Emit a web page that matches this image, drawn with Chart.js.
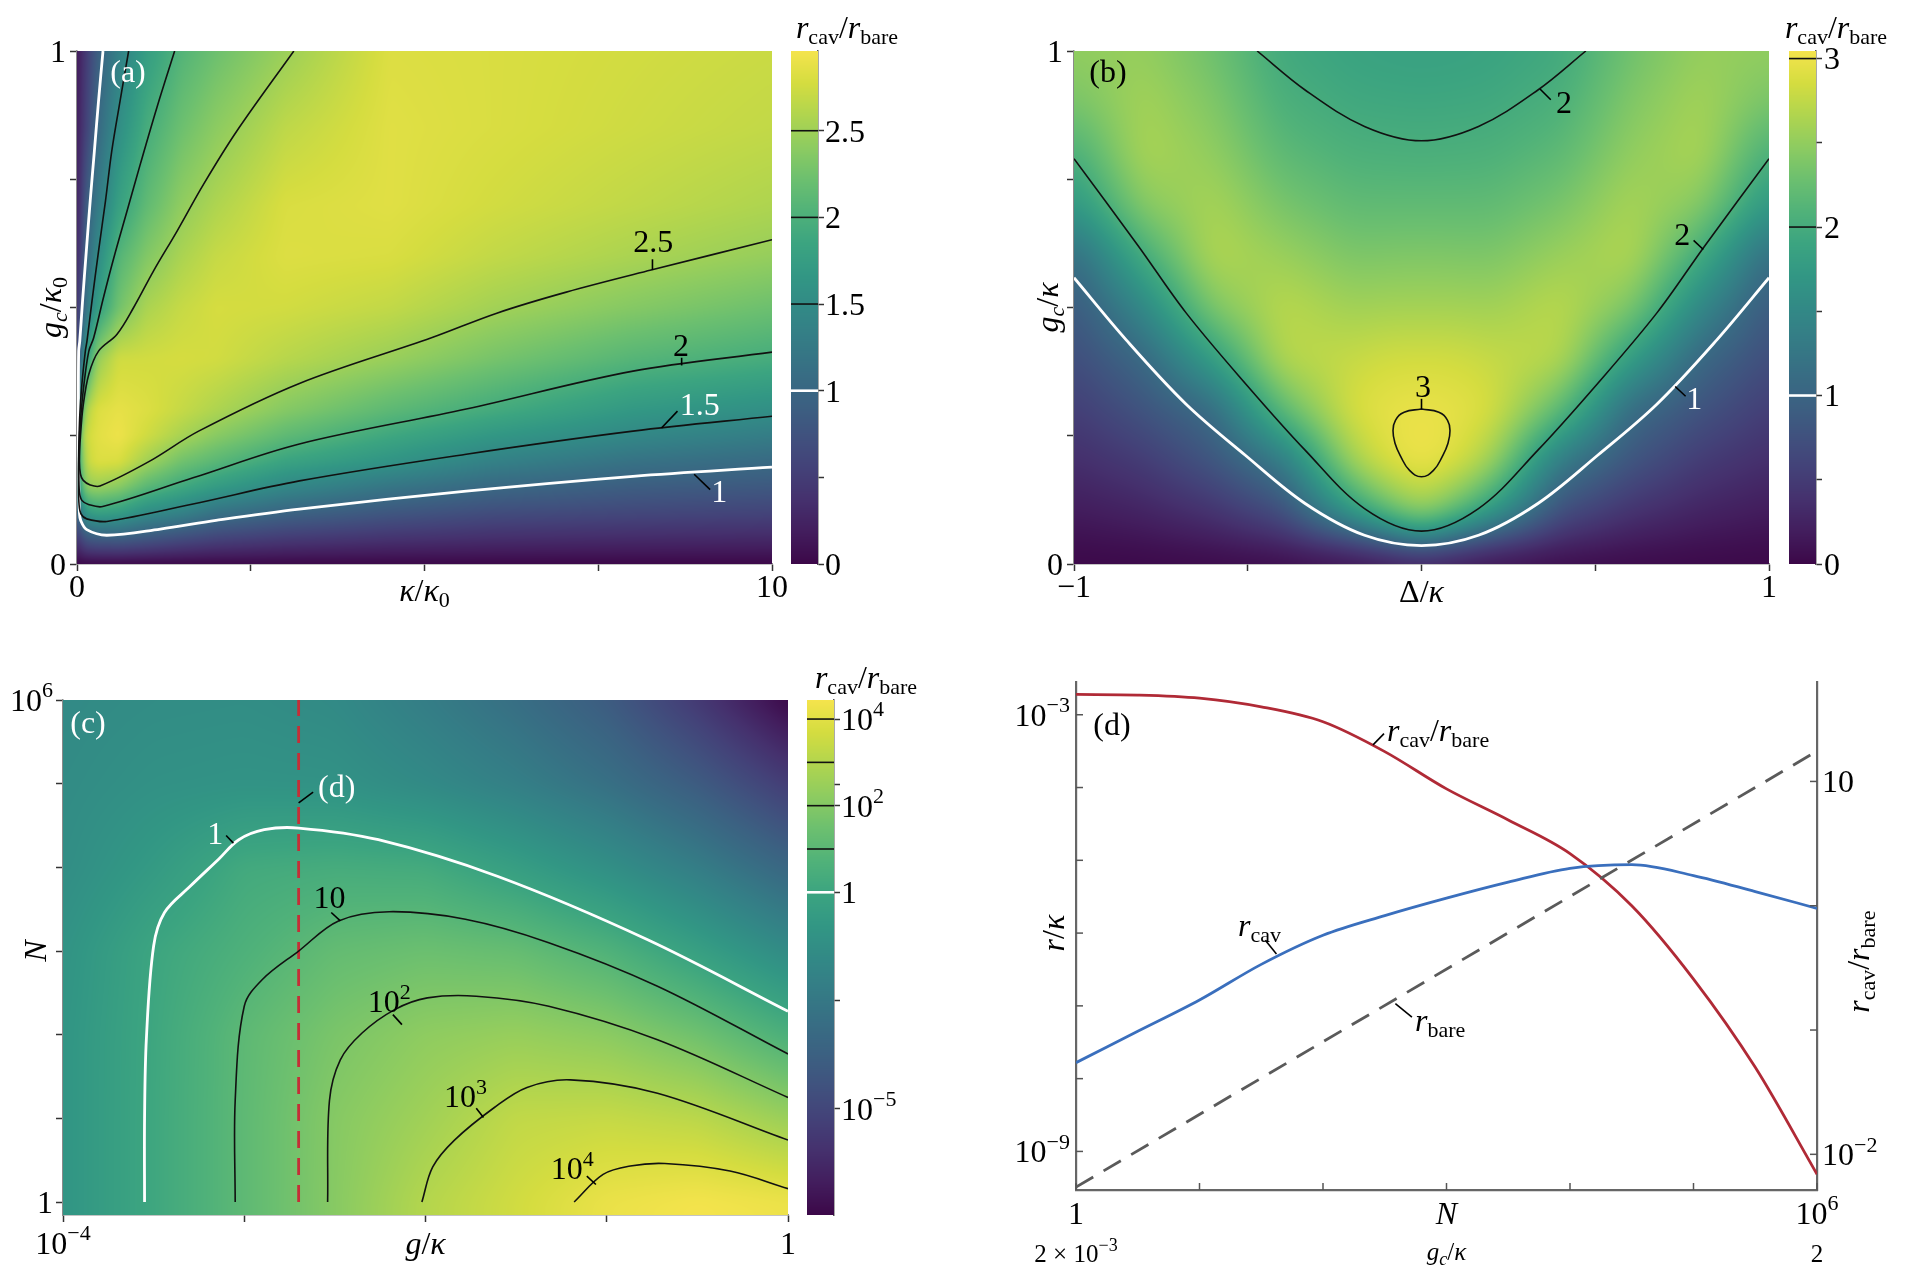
<!DOCTYPE html>
<html>
<head>
<meta charset="utf-8">
<title>cavity enhancement maps</title>
<script src="https://cdn.jsdelivr.net/npm/chart.js@4.4.1/dist/chart.umd.min.js"></script>
<style>
  html, body { margin: 0; background: #fff; }
  #page { position: relative; width: 1920px; height: 1280px; overflow: hidden; background: #fff; }
  #page canvas { position: absolute; left: 0; top: 0; }
</style>
</head>
<body>
<div id="page">
  <canvas id="panelA" width="1920" height="1280"></canvas>
  <canvas id="barA" width="1920" height="1280"></canvas>
  <canvas id="panelB" width="1920" height="1280"></canvas>
  <canvas id="barB" width="1920" height="1280"></canvas>
  <canvas id="panelC" width="1920" height="1280"></canvas>
  <canvas id="barC" width="1920" height="1280"></canvas>
  <canvas id="panelD" width="1920" height="1280"></canvas>
</div>
<script>
// ---- (a) r_cav/r_bare vs kappa/kappa0 (columns) and gc/kappa0 (rows) ----
const aKappa = [0, 0.05, 0.15, 0.3, 0.6, 1, 1.5, 2, 3, 4.5, 6, 8, 10]
const aGc = [0, 0.05, 0.1, 0.15, 0.2, 0.25, 0.3, 0.4, 0.5, 0.6, 0.7, 0.85, 1]
const aRatio = [
  [0, 0, 0, 0, 0, 0, 0, 0, 0, 0, 0, 0, 0],
  [0.4, 0.6, 0.82, 0.88, 0.9, 0.8, 0.68, 0.58, 0.48, 0.4, 0.35, 0.32, 0.3],
  [0.8, 1.3, 1.7, 1.8, 1.75, 1.52, 1.38, 1.16, 0.97, 0.8, 0.68, 0.62, 0.58],
  [1.2, 2.0, 2.42, 2.47, 2.38, 2.1, 1.9, 1.72, 1.45, 1.2, 1.02, 0.88, 0.82],
  [1.5, 2.2, 2.7, 2.82, 2.8, 2.52, 2.25, 2.1, 1.83, 1.62, 1.36, 1.16, 1.05],
  [1.2, 2.4, 2.75, 2.85, 2.92, 2.75, 2.55, 2.38, 2.13, 1.88, 1.66, 1.45, 1.3],
  [0.5, 2.0, 2.62, 2.82, 2.88, 2.82, 2.7, 2.58, 2.36, 2.12, 1.93, 1.68, 1.55],
  [0.3, 1.15, 1.82, 2.45, 2.75, 2.76, 2.78, 2.76, 2.63, 2.47, 2.28, 2.07, 1.95],
  [0.22, 0.75, 1.27, 1.75, 2.25, 2.56, 2.7, 2.78, 2.76, 2.68, 2.52, 2.36, 2.22],
  [0.18, 0.55, 1.06, 1.5, 2.06, 2.34, 2.56, 2.7, 2.82, 2.8, 2.68, 2.56, 2.45],
  [0.15, 0.45, 0.92, 1.27, 1.79, 2.14, 2.42, 2.58, 2.8, 2.84, 2.76, 2.67, 2.58],
  [0.12, 0.35, 0.6, 1.04, 1.54, 1.95, 2.22, 2.4, 2.66, 2.84, 2.8, 2.74, 2.68],
  [0.1, 0.28, 0.52, 0.9, 1.35, 1.75, 2.05, 2.22, 2.48, 2.82, 2.8, 2.76, 2.72],
]
const aRange = [0, 2.96]
// contour lines of (a)
const aLevel1K = [0.374, 0.31, 0.25, 0.19, 0.134, 0.08, 0.04, 0.024, 0.02, 0.022, 0.029, 0.035, 0.053, 0.14, 0.43, 1.2, 2, 3.2, 5.6, 8, 10]
const aLevel1G = [1.0, 0.903, 0.805, 0.708, 0.61, 0.513, 0.435, 0.415, 0.3, 0.2, 0.13, 0.1, 0.085, 0.067, 0.056, 0.068, 0.085, 0.107, 0.142, 0.171, 0.189]
const aLevel15K = [0.743, 0.62, 0.50, 0.41, 0.31, 0.216, 0.144, 0.12, 0.07, 0.04, 0.025, 0.022, 0.03, 0.06, 0.14, 0.43, 1.67, 3.2, 5.6, 8, 10]
const aLevel15G = [1.0, 0.903, 0.805, 0.708, 0.61, 0.513, 0.435, 0.415, 0.35, 0.29, 0.22, 0.16, 0.115, 0.097, 0.088, 0.083, 0.117, 0.162, 0.214, 0.259, 0.288]
const aLevel2K = [1.405, 1.15, 0.91, 0.72, 0.53, 0.38, 0.24, 0.17, 0.1, 0.05, 0.03, 0.025, 0.035, 0.07, 0.165, 0.37, 1.67, 3.2, 5.6, 8, 10]
const aLevel2G = [1.0, 0.89, 0.779, 0.688, 0.597, 0.519, 0.441, 0.415, 0.35, 0.28, 0.23, 0.18, 0.14, 0.124, 0.116, 0.112, 0.168, 0.234, 0.302, 0.376, 0.413]
const aLevel25K = [3.12, 2.30, 1.82, 1.44, 1.10, 0.815, 0.576, 0.31, 0.17, 0.09, 0.05, 0.035, 0.05, 0.09, 0.19, 0.33, 1.04, 1.75, 3.2, 5.1, 6.04, 7.04, 8.26, 10]
const aLevel25G = [1.0, 0.844, 0.740, 0.649, 0.571, 0.50, 0.448, 0.415, 0.37, 0.31, 0.25, 0.2, 0.175, 0.163, 0.154, 0.152, 0.2, 0.259, 0.352, 0.441, 0.489, 0.530, 0.573, 0.632]

// ---- (b) r_cav/r_bare vs Delta/kappa (columns) and gc/kappa (rows) ----
const bDelta = [-1, -0.8, -0.6, -0.4, -0.2, -0.1, 0, 0.1, 0.2, 0.4, 0.6, 0.8, 1]
const bGc = [0, 0.05, 0.1, 0.2, 0.3, 0.4, 0.5, 0.6, 0.7, 0.8, 0.9, 1]
const bRatio = [
  [0, 0, 0, 0, 0, 0, 0, 0, 0, 0, 0, 0, 0],
  [0.08, 0.12, 0.2, 0.35, 0.75, 1.1, 1.5, 1.1, 0.75, 0.35, 0.2, 0.12, 0.08],
  [0.17, 0.25, 0.4, 0.7, 1.75, 2.2, 2.55, 2.2, 1.75, 0.7, 0.4, 0.25, 0.17],
  [0.35, 0.5, 0.8, 1.3, 2.6, 2.9, 3.02, 2.9, 2.6, 1.3, 0.8, 0.5, 0.35],
  [0.52, 0.78, 1.1, 2.2, 2.88, 2.96, 2.99, 2.96, 2.88, 2.2, 1.1, 0.78, 0.52],
  [0.7, 1.05, 1.8, 2.7, 2.78, 2.84, 2.85, 2.84, 2.78, 2.7, 1.8, 1.05, 0.7],
  [0.85, 1.5, 2.4, 2.72, 2.58, 2.6, 2.6, 2.6, 2.58, 2.72, 2.4, 1.5, 0.85],
  [1.12, 2.0, 2.68, 2.55, 2.38, 2.39, 2.4, 2.39, 2.38, 2.55, 2.68, 2.0, 1.12],
  [1.7, 2.45, 2.62, 2.35, 2.2, 2.2, 2.2, 2.2, 2.2, 2.35, 2.62, 2.45, 1.7],
  [2.03, 2.64, 2.5, 2.18, 2.06, 2.05, 2.04, 2.05, 2.06, 2.18, 2.5, 2.64, 2.03],
  [2.35, 2.6, 2.4, 2.05, 1.95, 1.94, 1.93, 1.94, 1.95, 2.05, 2.4, 2.6, 2.35],
  [2.5, 2.52, 2.3, 1.96, 1.88, 1.86, 1.85, 1.86, 1.88, 1.96, 2.3, 2.52, 2.5],
]
const bRange = [0, 3.045]
const bLevel1D = [-1, -0.85, -0.678, -0.507, -0.335, -0.164, 0, 0.164, 0.335, 0.507, 0.678, 0.85, 1]
const bLevel1G = [0.558, 0.437, 0.312, 0.212, 0.118, 0.056, 0.036, 0.056, 0.118, 0.212, 0.312, 0.437, 0.558]
const bLevel2D = [-1, -0.815, -0.678, -0.507, -0.335, -0.164, 0, 0.164, 0.335, 0.507, 0.678, 0.815, 1]
const bLevel2G = [0.79, 0.62, 0.49, 0.352, 0.222, 0.108, 0.064, 0.108, 0.222, 0.352, 0.49, 0.62, 0.79]
const bUpper2D = [-0.473, -0.335, -0.164, 0, 0.164, 0.335, 0.473]
const bUpper2G = [1.0, 0.924, 0.853, 0.825, 0.853, 0.924, 1.0]
const bLevel3D = [0, 0.05, 0.075, 0.082, 0.076, 0.06, 0.035, 0, -0.035, -0.06, -0.076, -0.082, -0.075, -0.05, 0]
const bLevel3G = [0.302, 0.296, 0.28, 0.26, 0.235, 0.21, 0.183, 0.17, 0.183, 0.21, 0.235, 0.26, 0.28, 0.296, 0.302]

// ---- (c) log10 r_cav/r_bare vs log10 g/kappa (columns) and log10 N (rows) ----
const cLogG = [-4, -3.5, -3, -2.5, -2, -1.5, -1, -0.5, 0]
const cLogN = [0, 1, 2, 3, 4, 5, 6]
const cLogRatio = [
  [-0.9, 0.1, 1.1, 2.08, 3.04, 3.62, 4.2, 4.42, 4.25],
  [-0.9, 0.1, 1.1, 2.05, 2.62, 3.3, 3.39, 3.18, 2.49],
  [-0.9, 0.08, 1.08, 1.79, 2.25, 2.43, 2.18, 1.55, 0.55],
  [-1.0, 0.02, 0.63, 1.25, 1.45, 1.3, 0.71, -0.3, -1.44],
  [-1.3, -0.6, 0.25, 0.38, 0.3, -0.38, -1.2, -2.2, -3.44],
  [-1.4, -1.1, -1.0, -1.05, -1.5, -2.1, -2.9, -4.0, -5.44],
  [-1.5, -1.35, -1.3, -1.5, -2.2, -3.0, -4.0, -5.6, -7.44],
]
const cRange = [-7.45, 4.44]
const cLevel1G = [-3.55, -3.55, -3.54, -3.50, -3.44, -3.30, -3.14, -3.03, -2.89, -2.70, -2.26, -1.60, -0.78, 0]
const cLevel1N = [0, 1, 1.95, 3.06, 3.46, 3.77, 4.10, 4.33, 4.45, 4.47, 4.33, 3.89, 3.14, 2.28]
const cLevel10G = [-3.05, -3.05, -3.0, -2.90, -2.70, -2.48, -2.20, -1.78, -1.32, -0.72, 0]
const cLevel10N = [0, 1.21, 2.34, 2.66, 3.0, 3.36, 3.47, 3.38, 3.10, 2.58, 1.77]
const cLevel100G = [-2.54, -2.53, -2.47, -2.35, -2.17, -1.99, -1.72, -1.32, -0.72, 0]
const cLevel100N = [0, 1.21, 1.70, 2.02, 2.30, 2.44, 2.46, 2.34, 1.94, 1.25]
const cLevel1000G = [-2.02, -1.96, -1.84, -1.62, -1.44, -1.20, -0.72, 0]
const cLevel1000N = [0, 0.42, 0.74, 1.13, 1.37, 1.46, 1.30, 0.74]
const cLevel1e4G = [-1.18, -1.02, -0.87, -0.68, -0.32, 0]
const cLevel1e4N = [0, 0.33, 0.43, 0.46, 0.37, 0.16]
const cCutLogG = -2.70   // slice shown in (d)

// ---- (d) rates along the slice, log10 values vs log10 N ----
const dLogN = [0, 0.5, 1, 1.5, 2, 2.5, 3, 3.5, 4, 4.5, 5, 5.5, 6]
const dLogRcav = [-7.78, -7.35, -6.92, -6.43, -6.03, -5.76, -5.52, -5.30, -5.11, -5.06, -5.21, -5.43, -5.66]
const dLogRatio = [1.70, 1.695, 1.67, 1.6, 1.48, 1.24, 0.94, 0.69, 0.42, 0.0, -0.59, -1.30, -2.16]
const dBareLogN = [0, 6]
const dLogRbare = [-9.49, -3.5]

// ---------------- helpers ----------------
const FAM = '"Liberation Serif", "DejaVu Serif", serif'
const VIRIDIS = ['#440154', '#48186a', '#472d7b', '#424086', '#3b528b', '#33638d', '#2c728e', '#26828e',
  '#21918c', '#1fa088', '#28ae80', '#3fbc73', '#5ec962', '#84d44b', '#addc30', '#d8e219', '#fde725']
const VRGB = VIRIDIS.map((h) => [1, 3, 5].map((k) => parseInt(h.slice(k, k + 2), 16)))
const SAT = 0.78   // the printed colours are a little muted

function cmap(t) {
  t = Math.min(1, Math.max(0, t))
  const f = t * (VRGB.length - 1)
  const k = Math.min(VRGB.length - 2, Math.floor(f))
  const u = f - k
  const c = VRGB[k].map((v, i) => v + (VRGB[k + 1][i] - v) * u)
  const lum = 0.3 * c[0] + 0.59 * c[1] + 0.11 * c[2]
  return c.map((v) => lum + SAT * (v - lum))
}

function locate(arr, v) {
  const n = arr.length
  if (v <= arr[0]) return [0, 0]
  if (v >= arr[n - 1]) return [n - 2, 1]
  let k = 0
  while (arr[k + 1] < v) k++
  return [k, (v - arr[k]) / (arr[k + 1] - arr[k])]
}

// separable box blur with clamped edges (smooths the rendered field only)
function boxBlur(src, w, h, r) {
  const tmp = new Float32Array(w * h)
  const n = 2 * r + 1
  for (let j = 0; j < h; j++) {
    const row = j * w
    let acc = 0
    for (let k = -r; k <= r; k++) acc += src[row + Math.min(w - 1, Math.max(0, k))]
    for (let i = 0; i < w; i++) {
      tmp[row + i] = acc / n
      acc += src[row + Math.min(w - 1, i + r + 1)] - src[row + Math.max(0, i - r)]
    }
  }
  for (let i = 0; i < w; i++) {
    let acc = 0
    for (let k = -r; k <= r; k++) acc += tmp[Math.min(h - 1, Math.max(0, k)) * w + i]
    for (let j = 0; j < h; j++) {
      src[j * w + i] = acc / n
      acc += tmp[Math.min(h - 1, j + r + 1) * w + i] - tmp[Math.max(0, j - r) * w + i]
    }
  }
}

function fontFor(st, size) {
  const small = st.includes('sub') || st.includes('sup')
  const it = st.includes('i') ? 'italic ' : ''
  return it + Math.round(small ? size * 0.7 : size) + 'px ' + FAM
}

function drawRich(ctx, parts, x, y, o) {
  const size = o.size || 32
  ctx.save()
  ctx.translate(x, y)
  if (o.rot) ctx.rotate(o.rot)
  let w = 0
  for (const p of parts) {
    ctx.font = fontFor(p[1], size)
    w += ctx.measureText(p[0]).width
  }
  let cx = o.align === 'left' ? 0 : o.align === 'right' ? -w : -w / 2
  ctx.fillStyle = o.color || '#000'
  ctx.textAlign = 'left'
  ctx.textBaseline = 'alphabetic'
  for (const p of parts) {
    ctx.font = fontFor(p[1], size)
    let dy = 0.34 * size
    if (p[1].includes('sub')) dy += 0.2 * size
    if (p[1].includes('sup')) dy -= 0.42 * size
    ctx.fillText(p[0], cx, dy)
    cx += ctx.measureText(p[0]).width
  }
  ctx.restore()
}

const pow10 = (e) => [['10', ''], [e, 'sup']]
const plain = (s) => [[s, '']]
const R_RATIO = [['r', 'i'], ['cav', 'sub'], ['/', ''], ['r', 'i'], ['bare', 'sub']]
const K_K0 = [['κ', 'i'], ['/', ''], ['κ', 'i'], ['0', 'sub']]
const GC_K0 = [['g', 'i'], ['c', 'isub'], ['/', ''], ['κ', 'i'], ['0', 'sub']]
const GC_K = [['g', 'i'], ['c', 'isub'], ['/', ''], ['κ', 'i']]
const D_K = [['Δ', ''], ['/', ''], ['κ', 'i']]
const G_K = [['g', 'i'], ['/', ''], ['κ', 'i']]
const R_K = [['r', 'i'], ['/', ''], ['κ', 'i']]
const N_I = [['N', 'i']]
const UP = -Math.PI / 2
const e10 = (v) => Math.pow(10, v)
const toG = (a) => a.map(e10)

function frame(box, yw, xh, y2w) {
  return { padding: { left: box.l - yw, top: box.t, right: 1920 - box.r - (y2w || 0), bottom: 1280 - box.b - xh } }
}
function fixSize(size) {
  return (s) => {
    if (s.isHorizontal()) s.height = size
    else s.width = size
    s.paddingLeft = s.paddingRight = s.paddingTop = s.paddingBottom = 0
  }
}
function tickAt(values) {
  return (s) => { s.ticks = values.map((v) => ({ value: v })) }
}
function axis(extra, size, ticks) {
  return Object.assign({
    ticks: { display: false },
    grid: { display: true, drawOnChartArea: false, drawTicks: true, tickLength: 7, tickWidth: 1.5, tickColor: '#333', color: 'rgba(0,0,0,0)' },
    border: { display: true, color: '#8a8a8a', width: 1.5 },
    z: 1,
    afterFit: fixSize(size),
    afterBuildTicks: tickAt(ticks),
  }, extra)
}
function barAxis(extra, ticks) {
  return axis(Object.assign({
    position: 'right',
    grid: { display: true, drawOnChartArea: false, drawTicks: true, tickLength: 6, tickWidth: 1.5, tickColor: '#333', color: 'rgba(0,0,0,0)' },
    border: { display: true, color: '#555', width: 1.5 },
  }, extra), 60, ticks)
}
function curve(xs, ys, color, width, extra) {
  return Object.assign({
    data: xs.map((x, i) => ({ x, y: ys[i] })),
    showLine: true, pointRadius: 0, borderColor: color, borderWidth: width, tension: 0.35, fill: false,
  }, extra || {})
}

// heat map from a value grid, sampled through the chart scales
function heatLayer(g) {
  return {
    id: 'heat',
    beforeDatasetsDraw(chart) {
      const a = chart.chartArea, sx = chart.scales.x, sy = chart.scales.y
      const w = Math.round(a.right - a.left), h = Math.round(a.bottom - a.top)
      const cols = [], rows = []
      for (let i = 0; i < w; i++) {
        let v = sx.getValueForPixel(a.left + i + 0.5)
        if (g.logX) v = Math.log10(v)
        cols.push(locate(g.xs, v))
      }
      for (let j = 0; j < h; j++) {
        let v = sy.getValueForPixel(a.top + j + 0.5)
        if (g.logY) v = Math.log10(v)
        rows.push(locate(g.ys, v))
      }
      const field = new Float32Array(w * h)
      for (let j = 0; j < h; j++) {
        const [r, u] = rows[j]
        const z0 = g.z[r], z1 = g.z[r + 1]
        for (let i = 0; i < w; i++) {
          const [c, t] = cols[i]
          field[j * w + i] = (z0[c] * (1 - t) + z0[c + 1] * t) * (1 - u) + (z1[c] * (1 - t) + z1[c + 1] * t) * u
        }
      }
      for (let pass = 0; pass < (g.passes || 0); pass++) boxBlur(field, w, h, g.blur)
      const off = document.createElement('canvas')
      off.width = w; off.height = h
      const oc = off.getContext('2d')
      const img = oc.createImageData(w, h)
      for (let k = 0; k < w * h; k++) {
        const col = cmap((field[k] - g.range[0]) / (g.range[1] - g.range[0]))
        img.data[4 * k] = col[0]; img.data[4 * k + 1] = col[1]; img.data[4 * k + 2] = col[2]; img.data[4 * k + 3] = 255
      }
      oc.putImageData(img, 0, 0)
      chart.ctx.drawImage(off, a.left, a.top)
    },
  }
}

// colour bar strip plus contour level marks
function barLayer(g) {
  return {
    id: 'bar',
    beforeDatasetsDraw(chart) {
      const a = chart.chartArea, sy = chart.scales.y, ctx = chart.ctx
      for (let py = Math.floor(a.top); py < a.bottom; py++) {
        let v = sy.getValueForPixel(py + 0.5)
        if (g.log) v = Math.log10(v)
        const c = cmap((v - g.range[0]) / (g.range[1] - g.range[0]))
        ctx.fillStyle = 'rgb(' + c.map(Math.round).join(',') + ')'
        ctx.fillRect(a.left, py, a.right - a.left, 1)
      }
      for (const [v, color] of g.levels) {
        const py = sy.getPixelForValue(v)
        ctx.save()
        ctx.strokeStyle = color
        ctx.lineWidth = color === '#fff' ? 2.6 : 1.6
        ctx.beginPath(); ctx.moveTo(a.left, py); ctx.lineTo(a.right, py); ctx.stroke()
        ctx.restore()
      }
    },
  }
}

// tick labels (rich text) at values of the chart scales
function tickText(specs) {
  return {
    id: 'tickText',
    afterDraw(chart) {
      const a = chart.chartArea, ctx = chart.ctx
      for (const sp of specs) {
        const s = chart.scales[sp.axis]
        for (const [v, parts] of sp.labels) {
          const p = s.getPixelForValue(v)
          const o = { size: sp.size || 32 }
          if (s.isHorizontal()) drawRich(ctx, parts, p, a.bottom + sp.off, o)
          else if (s.position === 'left') drawRich(ctx, parts, a.left - sp.off, p, Object.assign(o, { align: 'right' }))
          else drawRich(ctx, parts, a.right + sp.off, p, Object.assign(o, { align: 'left' }))
        }
      }
    },
  }
}

// free text and leader lines; coordinates through a scale when xs / ys is given
function notes(items) {
  return {
    id: 'notes',
    afterDraw(chart) {
      const ctx = chart.ctx
      const px = (v, id) => (id ? chart.scales[id].getPixelForValue(v) : v)
      for (const it of items) {
        if (it.line) {
          const [x1, y1, x2, y2] = it.line
          ctx.save()
          ctx.strokeStyle = it.color || '#000'
          ctx.lineWidth = it.w || 1.6
          ctx.beginPath()
          ctx.moveTo(px(x1, it.xs), px(y1, it.ys))
          ctx.lineTo(px(x2, it.xs), px(y2, it.ys))
          ctx.stroke()
          ctx.restore()
        } else {
          drawRich(ctx, it.t, px(it.x, it.xs), px(it.y, it.ys), it)
        }
      }
    },
  }
}

// inward tick marks for the line panel
const inwardTicks = {
  id: 'inwardTicks',
  afterDraw(chart) {
    const ctx = chart.ctx, a = chart.chartArea
    ctx.save()
    ctx.strokeStyle = '#555'
    ctx.lineWidth = 1.5
    for (const id of ['x', 'y', 'y2']) {
      const s = chart.scales[id]
      for (const t of s.ticks) {
        const p = s.getPixelForValue(t.value)
        ctx.beginPath()
        if (id === 'x') { ctx.moveTo(p, a.bottom); ctx.lineTo(p, a.bottom - 7) }
        else if (id === 'y') { ctx.moveTo(a.left, p); ctx.lineTo(a.left + 7, p) }
        else { ctx.moveTo(a.right, p); ctx.lineTo(a.right - 7, p) }
        ctx.stroke()
      }
    }
    ctx.restore()
  },
}

const base = {
  responsive: false, animation: false, devicePixelRatio: 1, events: [],
  plugins: { legend: { display: false }, tooltip: { enabled: false } },
}
function opts(layout, scales) {
  return Object.assign({}, base, { layout, scales })
}

const BLACK = '#111', WHITE = '#fff'
const boxA = { l: 77, t: 51, r: 772, b: 564 }
const boxB = { l: 1074, t: 51, r: 1769, b: 564 }
const boxC = { l: 63, t: 700, r: 788, b: 1215 }
const boxD = { l: 1076, t: 682, r: 1817, b: 1190 }

function drawAll() {
  // ---------------- panel (a) ----------------
  new Chart(document.getElementById('panelA'), {
    type: 'scatter',
    data: {
      datasets: [
        curve(aLevel25K, aLevel25G, BLACK, 1.6),
        curve(aLevel2K, aLevel2G, BLACK, 1.6),
        curve(aLevel15K, aLevel15G, BLACK, 1.6),
        curve(aLevel1K, aLevel1G, WHITE, 2.8),
      ],
    },
    options: opts(frame(boxA, 60, 50), {
      x: axis({ type: 'linear', min: 0, max: 10 }, 50, [0, 2.5, 5, 7.5, 10]),
      y: axis({ type: 'linear', min: 0, max: 1 }, 60, [0, 0.25, 0.5, 0.75, 1]),
    }),
    plugins: [
      heatLayer({ xs: aKappa, ys: aGc, z: aRatio, range: aRange, blur: 3, passes: 2 }),
      tickText([
        { axis: 'x', off: 22, labels: [[0, plain('0')], [10, plain('10')]] },
        { axis: 'y', off: 11, labels: [[0, plain('0')], [1, plain('1')]] },
      ]),
      notes([
        { t: plain('(a)'), x: 128, y: 71, color: WHITE },
        { t: K_K0, x: 5, xs: 'x', y: 590 },
        { t: GC_K0, x: 50, y: 0.5, ys: 'y', rot: UP },
        { t: plain('2.5'), x: 8.29, y: 0.629, xs: 'x', ys: 'y' },
        { t: plain('2'), x: 8.69, y: 0.427, xs: 'x', ys: 'y' },
        { t: plain('1.5'), x: 8.96, y: 0.311, xs: 'x', ys: 'y', color: WHITE },
        { t: plain('1'), x: 9.24, y: 0.142, xs: 'x', ys: 'y', color: WHITE },
        { line: [8.28, 0.594, 8.28, 0.573], xs: 'x', ys: 'y' },
        { line: [8.70, 0.402, 8.70, 0.387], xs: 'x', ys: 'y' },
        { line: [8.64, 0.298, 8.41, 0.265], xs: 'x', ys: 'y' },
        { line: [8.88, 0.175, 9.11, 0.145], xs: 'x', ys: 'y' },
        { t: R_RATIO, x: 847, y: 27 },
      ]),
    ],
  })

  new Chart(document.getElementById('barA'), {
    type: 'scatter',
    data: { datasets: [] },
    options: opts(frame({ l: 791, t: 51, r: 818, b: 564 }, 0, 0, 60), {
      x: { type: 'linear', display: false, min: 0, max: 1 },
      y: barAxis({ type: 'linear', min: aRange[0], max: aRange[1] }, [0, 0.5, 1, 1.5, 2, 2.5]),
    }),
    plugins: [
      barLayer({ range: aRange, levels: [[1, WHITE], [1.5, BLACK], [2, BLACK], [2.5, BLACK]] }),
      tickText([{ axis: 'y', off: 7, labels: [[0, plain('0')], [1, plain('1')], [1.5, plain('1.5')], [2, plain('2')], [2.5, plain('2.5')]] }]),
    ],
  })

  // ---------------- panel (b) ----------------
  new Chart(document.getElementById('panelB'), {
    type: 'scatter',
    data: {
      datasets: [
        curve(bUpper2D, bUpper2G, BLACK, 1.6),
        curve(bLevel2D, bLevel2G, BLACK, 1.6),
        curve(bLevel3D, bLevel3G, BLACK, 1.6, { tension: 0.45 }),
        curve(bLevel1D, bLevel1G, WHITE, 2.8),
      ],
    },
    options: opts(frame(boxB, 60, 50), {
      x: axis({ type: 'linear', min: -1, max: 1 }, 50, [-1, -0.5, 0, 0.5, 1]),
      y: axis({ type: 'linear', min: 0, max: 1 }, 60, [0, 0.25, 0.5, 0.75, 1]),
    }),
    plugins: [
      heatLayer({ xs: bDelta, ys: bGc, z: bRatio, range: bRange, blur: 16, passes: 2 }),
      tickText([
        { axis: 'x', off: 22, labels: [[-1, plain('−1')], [1, plain('1')]] },
        { axis: 'y', off: 11, labels: [[0, plain('0')], [1, plain('1')]] },
      ]),
      notes([
        { t: plain('(b)'), x: 1108, y: 71 },
        { t: D_K, x: 0, xs: 'x', y: 591 },
        { t: GC_K, x: 1047, y: 0.5, ys: 'y', rot: UP },
        { t: plain('2'), x: 0.41, y: 0.901, xs: 'x', ys: 'y' },
        { t: plain('2'), x: 0.75, y: 0.644, xs: 'x', ys: 'y' },
        { t: plain('1'), x: 0.785, y: 0.323, xs: 'x', ys: 'y', color: WHITE },
        { t: plain('3'), x: 0.004, y: 0.347, xs: 'x', ys: 'y' },
        { line: [0.341, 0.926, 0.372, 0.905], xs: 'x', ys: 'y' },
        { line: [0.783, 0.631, 0.811, 0.613], xs: 'x', ys: 'y' },
        { line: [0.73, 0.346, 0.76, 0.327], xs: 'x', ys: 'y' },
        { line: [0, 0.322, 0, 0.302], xs: 'x', ys: 'y' },
        { t: R_RATIO, x: 1836, y: 27 },
      ]),
    ],
  })

  new Chart(document.getElementById('barB'), {
    type: 'scatter',
    data: { datasets: [] },
    options: opts(frame({ l: 1789, t: 51, r: 1816, b: 564 }, 0, 0, 60), {
      x: { type: 'linear', display: false, min: 0, max: 1 },
      y: barAxis({ type: 'linear', min: bRange[0], max: bRange[1] }, [0, 0.5, 1, 1.5, 2, 2.5, 3]),
    }),
    plugins: [
      barLayer({ range: bRange, levels: [[1, WHITE], [2, BLACK], [3, BLACK]] }),
      tickText([{ axis: 'y', off: 8, labels: [[0, plain('0')], [1, plain('1')], [2, plain('2')], [3, plain('3')]] }]),
    ],
  })

  // ---------------- panel (c) ----------------
  new Chart(document.getElementById('panelC'), {
    type: 'scatter',
    data: {
      datasets: [
        curve(toG(cLevel1e4G), toG(cLevel1e4N), BLACK, 1.6),
        curve(toG(cLevel1000G), toG(cLevel1000N), BLACK, 1.6),
        curve(toG(cLevel100G), toG(cLevel100N), BLACK, 1.6),
        curve(toG(cLevel10G), toG(cLevel10N), BLACK, 1.6),
        curve(toG(cLevel1G), toG(cLevel1N), WHITE, 2.8),
        curve([e10(cCutLogG), e10(cCutLogG)], [1, 1e6], '#c42f37', 2.8, { borderDash: [17, 10], tension: 0 }),
      ],
    },
    options: opts(frame(boxC, 60, 50), {
      x: axis({ type: 'logarithmic', min: 1e-4, max: 1 }, 50, [1e-4, 1e-3, 1e-2, 1e-1, 1]),
      y: axis({ type: 'logarithmic', min: e10(-0.13), max: 1e6 }, 60, [1, 10, 100, 1e3, 1e4, 1e5, 1e6]),
    }),
    plugins: [
      heatLayer({ xs: cLogG, ys: cLogN, z: cLogRatio, range: cRange, logX: true, logY: true, blur: 8, passes: 2 }),
      tickText([
        { axis: 'x', off: 28, labels: [[1e-4, pow10('−4')], [1, plain('1')]] },
        { axis: 'y', off: 10, labels: [[1, plain('1')], [1e6, pow10('6')]] },
      ]),
      notes([
        { t: plain('(c)'), x: 88, y: 722, color: WHITE },
        { t: G_K, x: 1e-2, xs: 'x', y: 1243 },
        { t: N_I, x: 35, y: 1e3, ys: 'y', rot: UP },
        { t: plain('1'), x: e10(-3.16), y: e10(4.41), xs: 'x', ys: 'y', color: WHITE },
        { t: plain('10'), x: e10(-2.53), y: e10(3.64), xs: 'x', ys: 'y' },
        { t: pow10('2'), x: e10(-2.20), y: e10(2.40), xs: 'x', ys: 'y' },
        { t: pow10('3'), x: e10(-1.78), y: e10(1.26), xs: 'x', ys: 'y' },
        { t: pow10('4'), x: e10(-1.19), y: e10(0.40), xs: 'x', ys: 'y' },
        { t: plain('(d)'), x: e10(-2.49), y: e10(4.97), xs: 'x', ys: 'y', color: WHITE },
        { line: [e10(-3.10), e10(4.38), e10(-3.06), e10(4.29)], xs: 'x', ys: 'y' },
        { line: [e10(-2.52), e10(3.46), e10(-2.47), e10(3.36)], xs: 'x', ys: 'y' },
        { line: [e10(-2.18), e10(2.24), e10(-2.13), e10(2.12)], xs: 'x', ys: 'y' },
        { line: [e10(-1.72), e10(1.12), e10(-1.68), e10(1.01)], xs: 'x', ys: 'y' },
        { line: [e10(-1.11), e10(0.31), e10(-1.06), e10(0.21)], xs: 'x', ys: 'y' },
        { line: [e10(-2.70), e10(4.77), e10(-2.62), e10(4.90)], xs: 'x', ys: 'y' },
        { t: R_RATIO, x: 866, y: 677 },
      ]),
    ],
  })

  new Chart(document.getElementById('barC'), {
    type: 'scatter',
    data: { datasets: [] },
    options: opts(frame({ l: 807, t: 700, r: 834, b: 1215 }, 0, 0, 60), {
      x: { type: 'linear', display: false, min: 0, max: 1 },
      y: barAxis({ type: 'logarithmic', min: e10(cRange[0]), max: e10(cRange[1]) }, [1e-5, e10(-2.5), 1, 100, e10(2.5), 1e4]),
    }),
    plugins: [
      barLayer({ range: cRange, log: true, levels: [[1, WHITE], [10, BLACK], [100, BLACK], [1e3, BLACK], [1e4, BLACK]] }),
      tickText([{ axis: 'y', off: 7, labels: [[1e-5, pow10('−5')], [1, plain('1')], [100, pow10('2')], [1e4, pow10('4')]] }]),
    ],
  })

  // ---------------- panel (d) ----------------
  const dAxis = (extra, size, ticks) => axis(Object.assign({
    grid: { display: false, drawTicks: false },
    border: { display: true, color: '#666', width: 2.2 },
  }, extra), size, ticks)
  new Chart(document.getElementById('panelD'), {
    type: 'scatter',
    data: {
      datasets: [
        curve(toG(dBareLogN), toG(dLogRbare), '#5a5a5a', 2.8, { borderDash: [20, 12], tension: 0, yAxisID: 'y' }),
        curve(toG(dLogN), toG(dLogRcav), '#3a6fbd', 2.8, { cubicInterpolationMode: 'monotone', yAxisID: 'y' }),
        curve(toG(dLogN), toG(dLogRatio), '#b02a36', 2.8, { cubicInterpolationMode: 'monotone', yAxisID: 'y2' }),
      ],
    },
    options: opts(frame(boxD, 70, 50, 60), {
      x: dAxis({ type: 'logarithmic', min: 1, max: 1e6 }, 50, [1, 10, 100, 1e3, 1e4, 1e5, 1e6]),
      y: dAxis({ type: 'logarithmic', position: 'left', min: e10(-9.53), max: e10(-2.55) }, 70,
        [1e-9, 1e-8, 1e-7, 1e-6, 1e-5, 1e-4, 1e-3]),
      y2: dAxis({ type: 'logarithmic', position: 'right', min: e10(-2.287), max: e10(1.80) }, 60,
        [1e-2, 1e-1, 1, 10]),
    }),
    plugins: [
      inwardTicks,
      tickText([
        { axis: 'x', off: 23, labels: [[1, plain('1')], [1e6, pow10('6')]] },
        { axis: 'y', off: 6, labels: [[1e-3, pow10('−3')], [1e-9, pow10('−9')]] },
        { axis: 'y2', off: 5, labels: [[10, plain('10')], [1e-2, pow10('−2')]] },
      ]),
      notes([
        { t: plain('(d)'), x: 1112, y: 724 },
        { t: N_I, x: 1e3, xs: 'x', y: 1213 },
        { t: [['2 × 10', ''], ['−3', 'sup']], x: 1, xs: 'x', y: 1253, size: 25 },
        { t: GC_K, x: 1e3, xs: 'x', y: 1251, size: 25 },
        { t: plain('2'), x: 1e6, xs: 'x', y: 1253, size: 25 },
        { t: R_K, x: 1053, y: 1e-6, ys: 'y', rot: UP },
        { t: R_RATIO, x: 1858, y: e10(-0.45), ys: 'y2', rot: UP },
        { t: R_RATIO, x: e10(2.518), y: e10(1.414), xs: 'x', ys: 'y2', align: 'left' },
        { t: [['r', 'i'], ['cav', 'sub']], x: e10(1.312), y: e10(-5.887), xs: 'x', ys: 'y', align: 'left' },
        { t: [['r', 'i'], ['bare', 'sub']], x: e10(2.745), y: e10(-7.19), xs: 'x', ys: 'y', align: 'left' },
        { line: [e10(2.405), e10(1.294), e10(2.494), e10(1.385)], xs: 'x', ys: 'y2' },
        { line: [e10(1.533), e10(-6.10), e10(1.623), e10(-6.287)], xs: 'x', ys: 'y' },
        { line: [e10(2.586), e10(-6.97), e10(2.72), e10(-7.154)], xs: 'x', ys: 'y' },
      ]),
    ],
  })
}

const fontReady = document.fonts && document.fonts.load
  ? Promise.all([
      document.fonts.load('32px "Liberation Serif"'),
      document.fonts.load('italic 32px "Liberation Serif"'),
    ]).catch(() => null)
  : Promise.resolve()
fontReady.then(drawAll, drawAll)
</script>
</body>
</html>
